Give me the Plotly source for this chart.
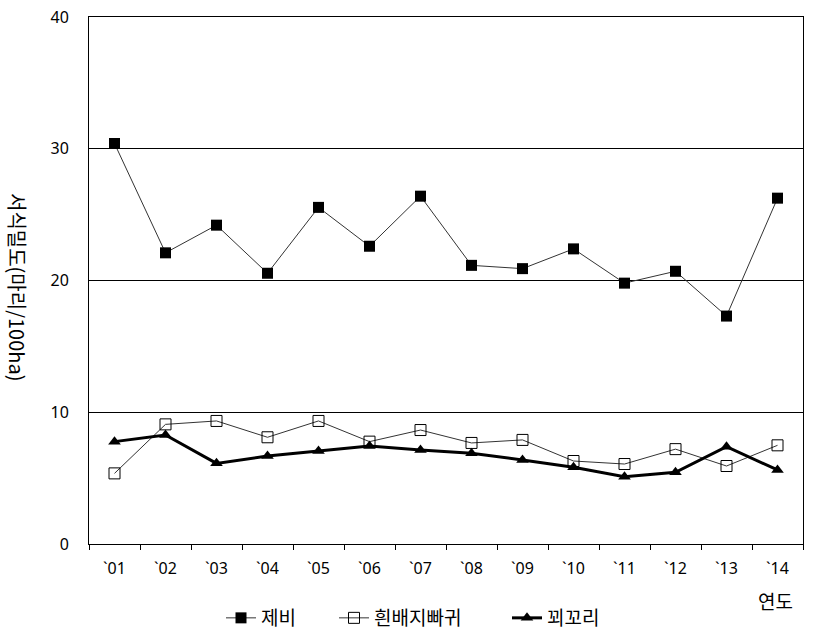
import plotly.graph_objects as go

years = ["`01", "`02", "`03", "`04", "`05", "`06", "`07", "`08", "`09", "`10", "`11", "`12", "`13", "`14"]
jebi = [30.4, 22.1, 24.2, 20.55, 25.55, 22.6, 26.4, 21.15, 20.9, 22.4, 19.8, 20.7, 17.3, 26.25]
huinbaeji = [5.36, 9.08, 9.34, 8.1, 9.34, 7.77, 8.65, 7.67, 7.9, 6.3, 6.07, 7.2, 5.92, 7.49]
kkoekkori = [7.77, 8.27, 6.12, 6.68, 7.06, 7.44, 7.13, 6.88, 6.38, 5.82, 5.11, 5.44, 7.39, 5.62]

KFONT = "Noto Sans CJK KR"
NFONT = "Noto Sans"

fig = go.Figure()
fig.add_trace(go.Scatter(
    x=years, y=jebi, name="제비", mode="lines+markers", legend="legend",
    line=dict(color="#333333", width=1),
    marker=dict(symbol="square", size=11, color="black"),
))
fig.add_trace(go.Scatter(
    x=years, y=huinbaeji, name="흰배지빠귀", mode="lines+markers", legend="legend2",
    line=dict(color="#333333", width=1),
    marker=dict(symbol="square-open", size=11, color="black", line=dict(width=1)),
))
fig.add_trace(go.Scatter(
    x=years, y=kkoekkori, name="꾀꼬리", mode="lines+markers", legend="legend3",
    line=dict(color="black", width=3),
    marker=dict(symbol="triangle-up", size=11, color="black"),
))

leg_common = dict(orientation="h", xref="container", yref="container", xanchor="left",
                  yanchor="middle", y=1 - 618 / 636, bgcolor="rgba(0,0,0,0)",
                  font=dict(family=KFONT, size=19, color="black"), itemwidth=30)

fig.update_layout(
    width=824, height=636,
    margin=dict(l=89, r=21, t=17, b=92, autoexpand=False),
    plot_bgcolor="white", paper_bgcolor="white",
    font=dict(family=NFONT, size=16, color="black"),
    showlegend=True,
    legend=dict(leg_common, x=221 / 824),
    legend2=dict(leg_common, x=334 / 824),
    legend3=dict(leg_common, x=507 / 824),
    xaxis=dict(type="category", range=[-0.5, 13.5], showgrid=False, automargin=False,
               showline=True, linecolor="black", linewidth=1, mirror=True,
               ticks="outside", tickson="boundaries", ticklen=5, tickcolor="black",
               ticklabelstandoff=10,
               tickfont=dict(family=NFONT, size=16, color="black")),
    yaxis=dict(range=[0, 40], dtick=10, showgrid=True, gridcolor="black", gridwidth=1,
               showline=True, linecolor="black", linewidth=1, mirror=True, automargin=False,
               ticks="", ticklabelstandoff=16, zeroline=False,
               tickfont=dict(family=NFONT, size=16, color="black")),
    annotations=[
        dict(text="연도", xref="paper", yref="paper", x=0.961, y=-(600 - 544) / 527,
             xanchor="center", yanchor="middle", showarrow=False,
             font=dict(family=KFONT, size=19, color="black")),
        dict(text="서식밀도(마리/100ha)", xref="paper", yref="paper",
             x=(18 - 89) / 714, y=(544 - 287) / 527, textangle=90,
             xanchor="center", yanchor="middle", showarrow=False,
             font=dict(family=KFONT, size=20, color="black")),
    ],
)

fig.write_html("out.html")
